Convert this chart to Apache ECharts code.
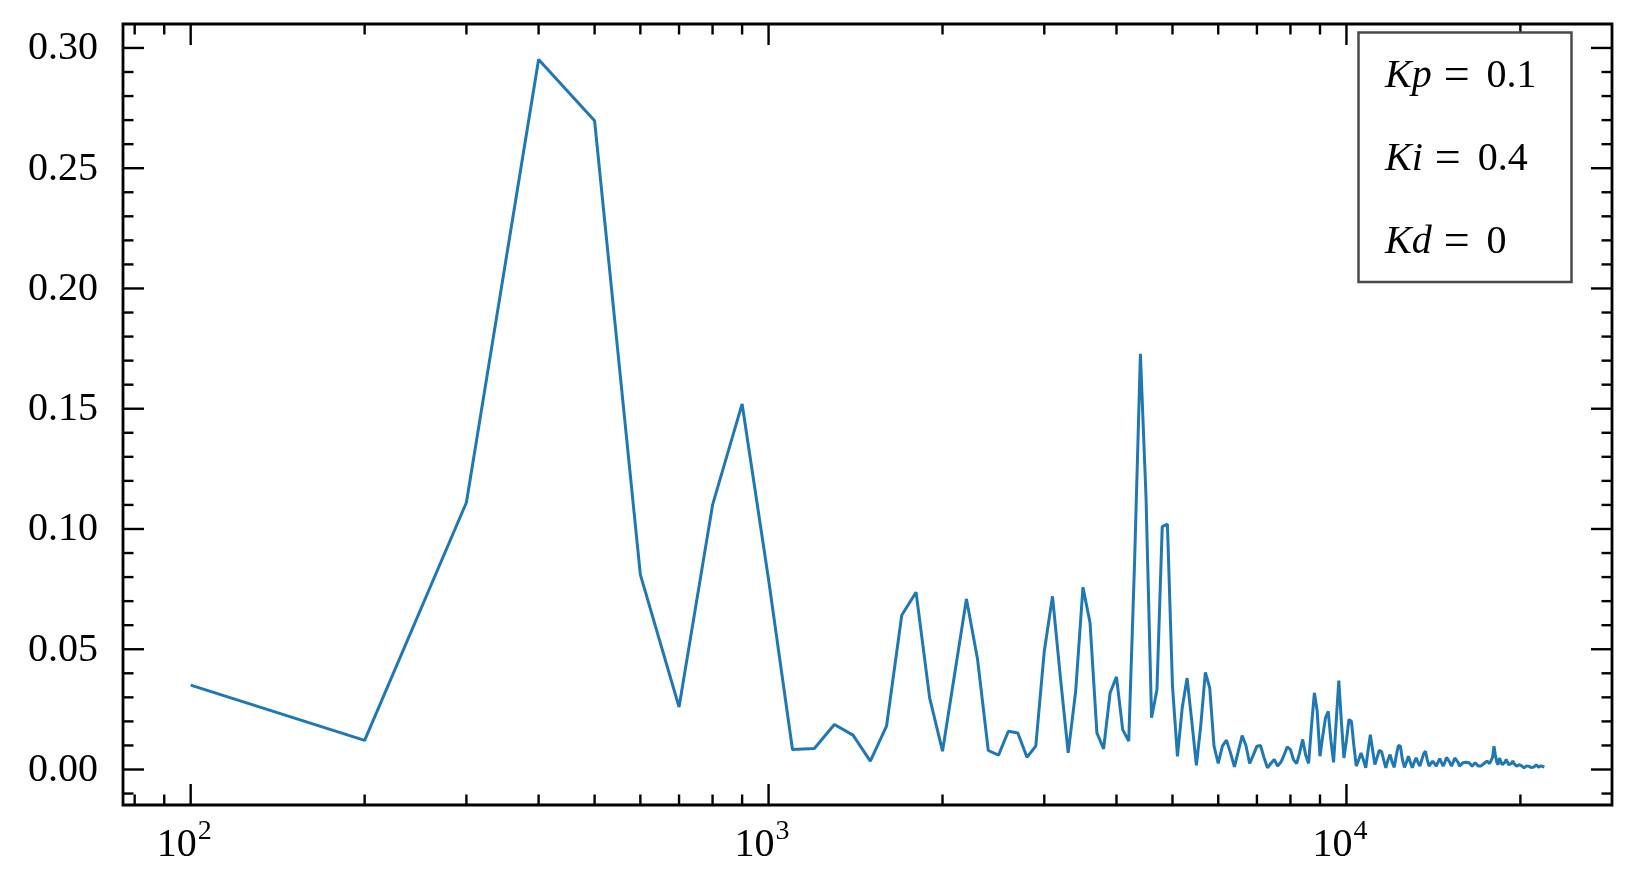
<!DOCTYPE html>
<html><head><meta charset="utf-8">
<script src="https://cdn.jsdelivr.net/npm/echarts@6/dist/echarts.min.js"></script>
<style>html,body{margin:0;padding:0;background:#fff}#c{width:1636px;height:893px}</style>
</head><body><div id="c"></div>
<script>
// ---- data (frequency in Hz, spectrum magnitude) ----
const freqs = [
  100,200,300,400,500,600,700,800,900,1000,
  1100,1200,1300,1400,1500,1600,1700,1800,1900,2000,
  2100,2200,2300,2400,2500,2600,2700,2800,2900,3000,
  3100,3200,3300,3400,3500,3600,3700,3800,3900,4000,
  4100,4200,4300,4400,4500,4600,4700,4800,4900,5000,
  5100,5200,5300,5400,5500,5600,5700,5800,5900,6000,
  6100,6200,6300,6400,6500,6600,6700,6800,6900,7000,
  7100,7200,7300,7400,7500,7600,7700,7800,7900,8000,
  8100,8200,8300,8400,8500,8600,8700,8800,8900,9000,
  9100,9200,9300,9400,9500,9600,9700,9800,9900,10000,
  10100,10200,10300,10400,10500,10600,10700,10800,10900,11000,
  11100,11200,11300,11400,11500,11600,11700,11800,11900,12000,
  12100,12200,12300,12400,12500,12600,12700,12800,12900,13000,
  13100,13200,13300,13400,13500,13600,13700,13800,13900,14000,
  14100,14200,14300,14400,14500,14600,14700,14800,14900,15000,
  15100,15200,15300,15400,15500,15600,15700,15800,15900,16000,
  16100,16200,16300,16400,16500,16600,16700,16800,16900,17000,
  17100,17200,17300,17400,17500,17600,17700,17800,17900,18000,
  18100,18200,18300,18400,18500,18600,18700,18800,18900,19000,
  19100,19200,19300,19400,19500,19600,19700,19800,19900,20000,
  20100,20200,20300,20400,20500,20600,20700,20800,20900,21000,
  21100,21200,21300,21400,21500,21600,21700,21800,21900,22000
];
const magnitudes = [
  0.0351,0.0121,0.111,0.2952,0.2697,0.081,0.026,0.110,0.152,0.079,
  0.0083,0.0087,0.0187,0.0143,0.0035,0.018,0.0641,0.0737,0.0298,0.0076,
  0.040,0.0709,0.0457,0.0079,0.006,0.0159,0.0152,0.0051,0.0097,0.0492,
  0.072,0.038,0.0069,0.0326,0.0758,0.061,0.0152,0.0086,0.0319,0.0385,
  0.0166,0.0118,0.087,0.1728,0.113,0.0215,0.0332,0.101,0.102,0.0347,
  0.0055,0.026,0.038,0.020,0.0017,0.019,0.0404,0.0339,0.0097,0.0025,
  0.0097,0.0122,0.0069,0.0011,0.0076,0.0141,0.0100,0.0025,0.006,0.0097,
  0.0100,0.005,0.0007,0.0025,0.0042,0.0014,0.003,0.006,0.0094,0.0083,
  0.004,0.0025,0.007,0.0125,0.006,0.0025,0.018,0.0319,0.0242,0.0055,
  0.014,0.0215,0.0242,0.012,0.003,0.020,0.037,0.020,0.0048,0.012,
  0.0208,0.020,0.010,0.0014,0.004,0.0069,0.004,0.0007,0.008,0.0145,
  0.008,0.0021,0.005,0.008,0.0075,0.004,0.0007,0.004,0.0062,0.003,
  0.0009,0.006,0.010,0.0097,0.004,0.0009,0.003,0.0055,0.003,0.0007,
  0.003,0.0048,0.003,0.0014,0.004,0.0065,0.0076,0.004,0.0014,0.0025,
  0.0035,0.0025,0.0014,0.003,0.0045,0.004,0.0014,0.003,0.005,0.0058,
  0.003,0.0014,0.003,0.0048,0.0052,0.003,0.0014,0.002,0.0028,0.0025,
  0.003,0.0035,0.0028,0.002,0.0014,0.002,0.0028,0.0028,0.0015,0.0007,
  0.0015,0.002,0.0025,0.003,0.0035,0.003,0.0025,0.0028,0.005,0.0097,
  0.006,0.003,0.002,0.0048,0.004,0.002,0.0014,0.003,0.0042,0.003,
  0.002,0.0014,0.0025,0.0035,0.0025,0.0018,0.0014,0.0018,0.002,0.002,
  0.0015,0.001,0.0007,0.001,0.0015,0.0017,0.0013,0.001,0.0008,0.0007,
  0.001,0.0015,0.002,0.0015,0.001,0.0012,0.0015,0.001,0.0012,0.001
];
// ---- ticks ----
const xMajorTicks = [100, 1000, 10000];
const xMajorExponents = ['2', '3', '4'];
const xMinorTicks = [80, 90, 200, 300, 400, 500, 600, 700, 800, 900,
  2000, 3000, 4000, 5000, 6000, 7000, 8000, 9000, 20000];
const yMajorTicks = [0, 0.05, 0.10, 0.15, 0.20, 0.25, 0.30];
const yTickLabels = ['0.00', '0.05', '0.10', '0.15', '0.20', '0.25', '0.30'];
const yMinorTicks = [-0.01, 0.01, 0.02, 0.03, 0.04, 0.06, 0.07, 0.08, 0.09,
  0.11, 0.12, 0.13, 0.14, 0.16, 0.17, 0.18, 0.19, 0.21, 0.22, 0.23, 0.24,
  0.26, 0.27, 0.28, 0.29];
// ---- legend text ----
const legendNames = ['Kp', 'Ki', 'Kd'];
const legendValues = ['0.1', '0.4', '0'];

// ---- layout / style ----
const FONT = '"Liberation Serif", "Times New Roman", serif';
const xMin = Math.pow(10, 1.88288), xMax = Math.pow(10, 4.45954);
const yMin = -0.01476, yMax = 0.30996;
const TW = 2.4, MAJ = 21, MIN = 10.5;
const TICK_FONT = 40, SUP_FONT = 28, LEG_FONT = 40;

function renderXTick(params, api) {
  const v = api.value(0), major = api.value(1), idx = api.value(2);
  const cs = params.coordSys;
  const x = api.coord([v, 0])[0];
  const len = major ? MAJ : MIN;
  const b = cs.y + cs.height, t = cs.y;
  const ch = [
    {type: 'line', shape: {x1: x, y1: b, x2: x, y2: b - len}, style: {stroke: '#000', lineWidth: TW}},
    {type: 'line', shape: {x1: x, y1: t, x2: x, y2: t + len}, style: {stroke: '#000', lineWidth: TW}}
  ];
  if (major) {
    ch.push({type: 'text', style: {text: '10', x: x + 6, y: b + 40, align: 'right', verticalAlign: 'middle',
      fontSize: TICK_FONT, fontFamily: FONT, fill: '#000'}});
    ch.push({type: 'text', style: {text: xMajorExponents[idx], x: x + 7, y: b + 27, align: 'left', verticalAlign: 'middle',
      fontSize: SUP_FONT, fontFamily: FONT, fill: '#000'}});
  }
  return {type: 'group', children: ch};
}
function renderYTick(params, api) {
  const v = api.value(1), major = api.value(2), idx = api.value(3);
  const cs = params.coordSys;
  const y = api.coord([1000, v])[1];
  const len = major ? MAJ : MIN;
  const l = cs.x, r = cs.x + cs.width;
  const ch = [
    {type: 'line', shape: {x1: l, y1: y, x2: l + len, y2: y}, style: {stroke: '#000', lineWidth: TW}},
    {type: 'line', shape: {x1: r, y1: y, x2: r - len, y2: y}, style: {stroke: '#000', lineWidth: TW}}
  ];
  if (major) {
    ch.push({type: 'text', style: {text: yTickLabels[idx], x: l - 25, y: y + 1, align: 'right', verticalAlign: 'middle',
      fontSize: TICK_FONT, fontFamily: FONT, fill: '#000'}});
  }
  return {type: 'group', children: ch};
}

const xTickData = xMajorTicks.map((v, i) => [v, 1, i, 0]).concat(xMinorTicks.map(v => [v, 0, -1, 0]));
const yTickData = yMajorTicks.map((v, i) => [1000, v, 1, i]).concat(yMinorTicks.map(v => [1000, v, 0, -1]));

const legendGraphics = [{
  type: 'rect', z: 100, shape: {x: 1358.5, y: 32.5, width: 213, height: 249.5},
  style: {fill: '#fff', stroke: '#4a4a4a', lineWidth: 2.5}
}];
const rowY = [76.5, 159.5, 242.5];
legendNames.forEach((n, i) => {
  legendGraphics.push({
    type: 'text', z: 101, x: 1385, y: rowY[i],
    style: {
      text: '{i|' + n + '}{e|=}{n|' + legendValues[i] + '}',
      verticalAlign: 'middle', align: 'left', fill: '#000',
      rich: {
        i: {fontStyle: 'italic', fontSize: LEG_FONT, fontFamily: FONT, fill: '#000'},
        e: {fontSize: 46, fontFamily: FONT, fill: '#000', padding: [0, 17, 0, 12]},
        n: {fontSize: LEG_FONT, fontFamily: FONT, fill: '#000'}
      }
    }
  });
});

const chart = echarts.init(document.getElementById('c'), null, {renderer: 'canvas'});
chart.setOption({
  animation: false,
  backgroundColor: '#fff',
  grid: {left: 123, top: 24, right: 24, bottom: 88, show: true, borderColor: '#000', borderWidth: 2.8,
    backgroundColor: 'transparent', containLabel: false},
  xAxis: {type: 'log', logBase: 10, min: xMin, max: xMax,
    axisLine: {show: false}, axisTick: {show: false}, axisLabel: {show: false},
    splitLine: {show: false}, minorTick: {show: false}, minorSplitLine: {show: false}},
  yAxis: {type: 'value', min: yMin, max: yMax,
    axisLine: {show: false}, axisTick: {show: false}, axisLabel: {show: false},
    splitLine: {show: false}, minorTick: {show: false}, minorSplitLine: {show: false}},
  series: [
    {type: 'line', name: 'spectrum', data: freqs.map((f, i) => [f, magnitudes[i]]),
      showSymbol: false, symbol: 'none', lineStyle: {color: '#1f77b4', width: 3}, z: 5},
    {type: 'custom', name: 'xticks', data: xTickData, encode: {x: 0, y: 3}, renderItem: renderXTick,
      clip: false, silent: true, z: 10},
    {type: 'custom', name: 'yticks', data: yTickData, encode: {x: 0, y: 1}, renderItem: renderYTick,
      clip: false, silent: true, z: 10}
  ],
  graphic: legendGraphics
});
</script>
</body></html>
